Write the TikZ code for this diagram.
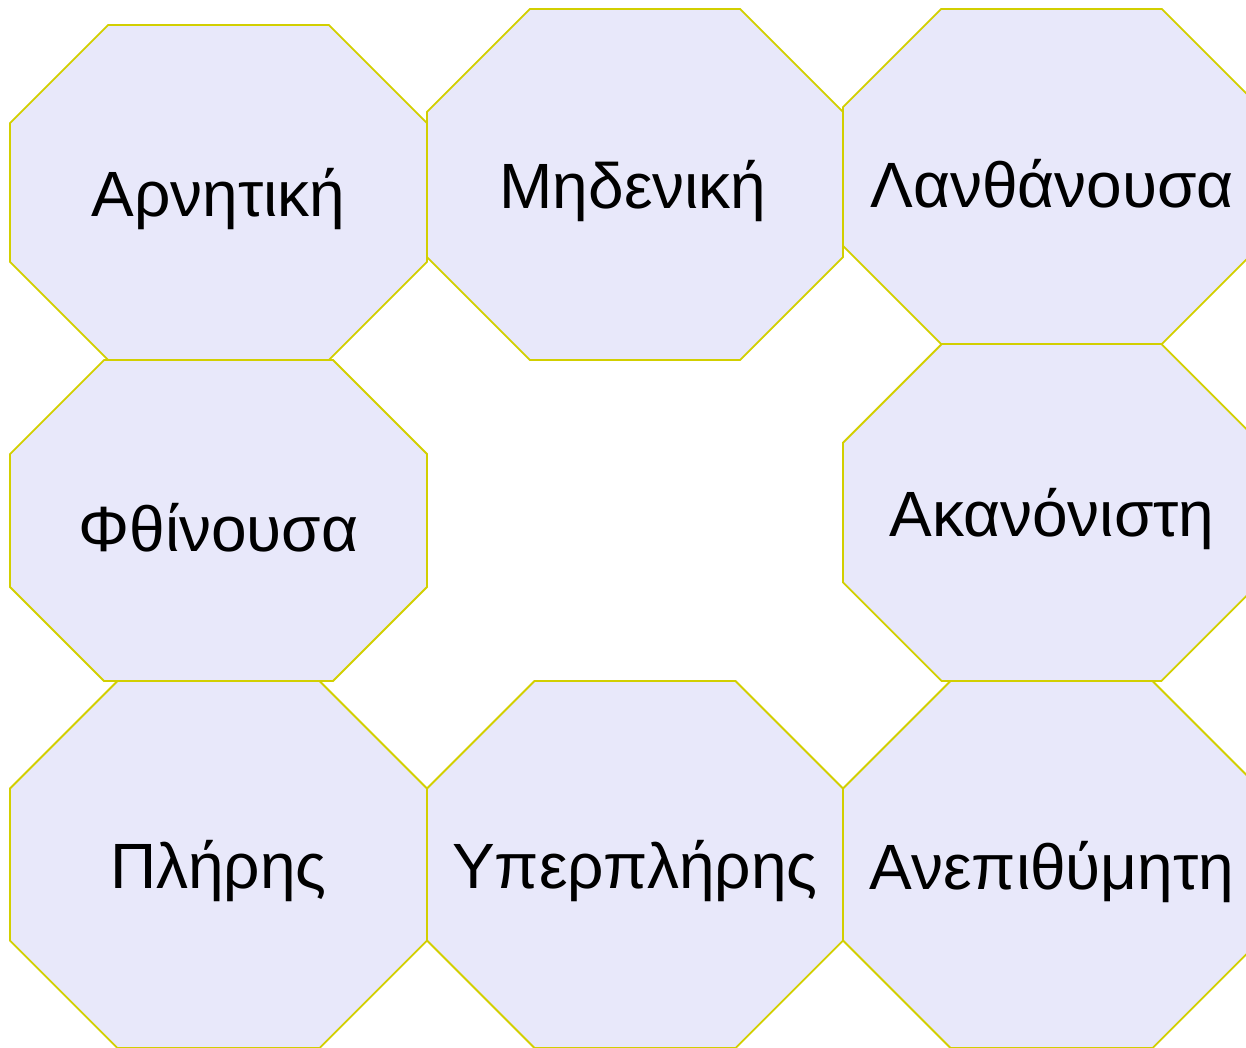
\documentclass[tikz,border=0pt]{standalone}
\usepackage{fontspec}
\setmainfont{Liberation Sans}
\usepackage{xcolor}
\usepackage{tikz}
\definecolor{octfill}{HTML}{E8E8FA}
\definecolor{octline}{HTML}{D2CF00}

% octagon filling the cell x1,y1 -- x2,y2 (45 degree corners)
\newcommand{\octcell}[4]{%
  \pgfmathsetmacro\octc{0.2929*(#4-#2)}%
  \draw[oct] (#1+\octc,#2) -- (#3-\octc,#2) -- (#3,#2+\octc) -- (#3,#4-\octc)
    -- (#3-\octc,#4) -- (#1+\octc,#4) -- (#1,#4-\octc) -- (#1,#2+\octc) -- cycle;}

\begin{document}
\begin{tikzpicture}[x=1pt, y=-1pt,
  oct/.style={fill=octfill, draw=octline, line width=1.8pt, line join=miter},
  lbl/.style={font=\fontsize{64}{74}\selectfont, text=black, inner sep=0pt,
              yshift=-7pt}]
  \path[use as bounding box, clip] (0,0) rectangle (1246,1047);
  \octcell{10}{25}{427}{360}
  \octcell{427}{9}{843}{360}
  \octcell{843}{9}{1260}{344}
  \octcell{10}{360}{427}{681}
  \octcell{843}{344}{1260}{681}
  \octcell{10}{681}{427}{1048}
  \octcell{427}{681}{843}{1048}
  \octcell{843}{681}{1260}{1048}
  \node[lbl] (neg)   at (218.5,192.5) {Αρνητική};
  \node[lbl] (zero)  at (633,184.5)   {Μηδενική};
  \node[lbl] (lat)   at (1052,176.5) {Λανθάνουσα};
  \node[lbl] (dec)   at (218.5,520.5) {Φθίνουσα};
  \node[lbl] (irr)   at (1052,512.5) {Ακανόνιστη};
  \node[lbl] (full)  at (218.5,864.5) {Πλήρης};
  \node[lbl] (over)  at (635,864.5)   {Υπερπλήρης};
  \node[lbl] (unw)   at (1052,864.5) {Ανεπιθύμητη};
\end{tikzpicture}
\end{document}
